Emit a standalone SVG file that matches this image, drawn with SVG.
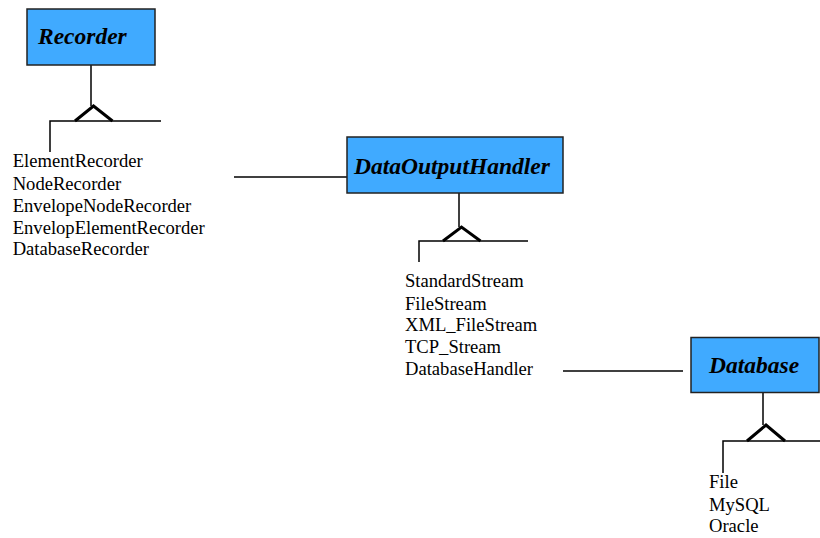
<svg xmlns="http://www.w3.org/2000/svg" width="820" height="538" viewBox="0 0 820 538">
  <style>
    .box { fill: #40AAFF; stroke: #222; stroke-width: 1.5; }
    .title { font-family: "Liberation Serif", "Times New Roman", serif; font-weight: bold; font-style: italic; font-size: 23.5px; fill: #000; }
    .item { font-family: "Liberation Serif", "Times New Roman", serif; font-size: 18.6px; fill: #000; }
    .line { stroke: #000; stroke-width: 1.5; fill: none; }
    .tri { stroke: #000; stroke-width: 3; fill: none; stroke-linejoin: miter; }
  </style>
  <rect width="820" height="538" fill="#fff"/>

  <g id="connectors">
    <!-- Recorder generalization -->
    <path class="line" d="M91 65 V106"/>
    <path class="tri" d="M75 121 L93.5 106 L112.5 121"/>
    <path class="line" d="M50 152 V121 H161"/>
    <!-- Recorder list to DataOutputHandler -->
    <path class="line" d="M234 177 H347"/>
    <!-- DataOutputHandler generalization -->
    <path class="line" d="M459 193 V227"/>
    <path class="tri" d="M443 241 L461.5 227 L480.5 241"/>
    <path class="line" d="M419 262 V241 H528"/>
    <!-- handler list to Database -->
    <path class="line" d="M563 371 H683"/>
    <!-- Database generalization -->
    <path class="line" d="M763 393 V425"/>
    <path class="tri" d="M747 441 L766 425 L785 441"/>
    <path class="line" d="M723 473 V441 H820"/>
  </g>

  <g id="recorder">
    <rect class="box" x="27" y="9" width="128" height="56"/>
    <text class="title" x="38" y="44">Recorder</text>
  </g>

  <g id="recorder-types">
    <text class="item" x="12.7" y="167">ElementRecorder</text>
    <text class="item" x="12.7" y="189.5">NodeRecorder</text>
    <text class="item" x="12.7" y="212">EnvelopeNodeRecorder</text>
    <text class="item" x="12.7" y="234">EnvelopElementRecorder</text>
    <text class="item" x="12.7" y="255">DatabaseRecorder</text>
  </g>

  <g id="data-output-handler">
    <rect class="box" x="347" y="137" width="216" height="56"/>
    <text class="title" x="354" y="173.5">DataOutputHandler</text>
  </g>

  <g id="handler-types">
    <text class="item" x="405" y="287.3">StandardStream</text>
    <text class="item" x="405" y="309.5">FileStream</text>
    <text class="item" x="405" y="331.3">XML_FileStream</text>
    <text class="item" x="405" y="353">TCP_Stream</text>
    <text class="item" x="405" y="374.5">DatabaseHandler</text>
  </g>

  <g id="database">
    <rect class="box" x="691" y="337.5" width="128" height="55"/>
    <text class="title" x="709" y="373">Database</text>
  </g>

  <g id="database-types">
    <text class="item" x="709" y="488">File</text>
    <text class="item" x="709" y="510.5">MySQL</text>
    <text class="item" x="709" y="532.2">Oracle</text>
  </g>
</svg>
